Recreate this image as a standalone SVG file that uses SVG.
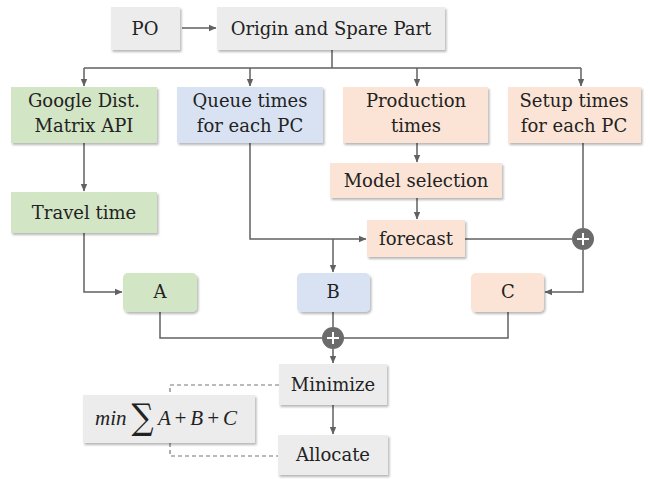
<svg xmlns="http://www.w3.org/2000/svg" width="650" height="479" viewBox="0 0 650 479">
<defs>
<filter id="sh" x="-10%" y="-10%" width="130%" height="140%">
<feDropShadow dx="1.5" dy="2" stdDeviation="1.2" flood-color="#000" flood-opacity="0.28"/>
</filter>
<marker id="ar" markerWidth="8" markerHeight="8" refX="7" refY="4" orient="auto" markerUnits="userSpaceOnUse">
<path d="M0,0.8 L7.5,4 L0,7.2 Z" fill="#616161"/>
</marker>
</defs>
<style>
.b{filter:url(#sh);stroke:none}
.g{fill:#ececec}.gr{fill:#d2e5c5}.bl{fill:#d9e2f3}.pe{fill:#fbe4d6}
text{font-family:"DejaVu Serif","Liberation Serif",serif;font-size:18px;fill:#222;text-anchor:middle}
.ln{fill:none;stroke:#616161;stroke-width:1.5}
.ds{fill:none;stroke:#777;stroke-width:1.2;stroke-dasharray:4 3}
.pc{fill:#6b6b6b}
.pl{stroke:#fff;stroke-width:2}
.m{font-family:"Liberation Serif","DejaVu Serif",serif;font-style:italic;font-size:21px;text-anchor:start}
</style>
<g id="connectors">
<line class="ln" x1="182" y1="28" x2="216" y2="28" marker-end="url(#ar)"/>
<path class="ln" d="M332,50 V68 M84,68 H581"/>
<line class="ln" x1="84" y1="68" x2="84" y2="86" marker-end="url(#ar)"/>
<line class="ln" x1="250" y1="68" x2="250" y2="86" marker-end="url(#ar)"/>
<line class="ln" x1="417" y1="68" x2="417" y2="86" marker-end="url(#ar)"/>
<line class="ln" x1="581" y1="68" x2="581" y2="86" marker-end="url(#ar)"/>
<line class="ln" x1="84" y1="143" x2="84" y2="191" marker-end="url(#ar)"/>
<line class="ln" x1="417" y1="143" x2="417" y2="162" marker-end="url(#ar)"/>
<line class="ln" x1="417" y1="198" x2="417" y2="219" marker-end="url(#ar)"/>
<path class="ln" d="M250,143 V239 H366" marker-end="url(#ar)"/>
<line class="ln" x1="333" y1="239" x2="333" y2="272" marker-end="url(#ar)"/>
<path class="ln" d="M84,212 V292 H122" marker-end="url(#ar)"/>
<line class="ln" x1="465" y1="239" x2="572" y2="239"/>
<line class="ln" x1="583" y1="143" x2="583" y2="228"/>
<path class="ln" d="M583,250 V292 H545" marker-end="url(#ar)"/>
<path class="ln" d="M160,312 V338 H508 V312"/>
<line class="ln" x1="333" y1="312" x2="333" y2="327"/>
<line class="ln" x1="333" y1="349" x2="333" y2="363" marker-end="url(#ar)"/>
<line class="ln" x1="333" y1="405" x2="333" y2="434" marker-end="url(#ar)"/>
<path class="ds" d="M279,385 H170 V395"/>
<path class="ds" d="M170,443 V456 H278"/>
</g>
<g id="plus1"><circle class="pc" cx="583" cy="239" r="11"/><path class="pl" d="M577,239 H589 M583,233 V245"/></g>
<g id="plus2"><circle class="pc" cx="333" cy="338" r="11"/><path class="pl" d="M327,338 H339 M333,332 V344"/></g>
<g id="po"><rect class="b g" x="111" y="7" width="69" height="43"/><text x="145" y="35">PO</text></g>
<g id="origin"><rect class="b g" x="217" y="7" width="228" height="43"/><text x="331" y="35">Origin and Spare Part</text></g>
<g id="google"><rect class="b gr" x="11" y="87" width="146" height="56"/><text x="84" y="107">Google Dist.</text><text x="84" y="132">Matrix API</text></g>
<g id="queue"><rect class="b bl" x="177" y="87" width="146" height="56"/><text x="250" y="107">Queue times</text><text x="250" y="132">for each PC</text></g>
<g id="production"><rect class="b pe" x="343" y="87" width="145" height="56"/><text x="416" y="107">Production</text><text x="416" y="132">times</text></g>
<g id="setup"><rect class="b pe" x="508" y="87" width="133" height="56"/><text x="574" y="107">Setup times</text><text x="574" y="132">for each PC</text></g>
<g id="travel"><rect class="b gr" x="11" y="192" width="146" height="41"/><text x="84" y="219">Travel time</text></g>
<g id="model"><rect class="b pe" x="330" y="163" width="172" height="35"/><text x="416" y="187">Model selection</text></g>
<g id="forecast"><rect class="b pe" x="367" y="220" width="98" height="37"/><text x="416" y="245">forecast</text></g>
<g id="A"><rect class="b gr" x="123" y="273" width="74" height="39" rx="5"/><text x="160" y="298">A</text></g>
<g id="B"><rect class="b bl" x="297" y="273" width="73" height="39" rx="5"/><text x="333" y="298">B</text></g>
<g id="C"><rect class="b pe" x="471" y="273" width="73" height="39" rx="5"/><text x="508" y="298">C</text></g>
<g id="minimize"><rect class="b g" x="279" y="364" width="108" height="41"/><text x="333" y="391">Minimize</text></g>
<g id="allocate"><rect class="b g" x="278" y="435" width="110" height="40"/><text x="333" y="461">Allocate</text></g>
<g id="formula"><rect class="b g" x="83" y="395" width="172" height="48"/>
<text class="m" x="95" y="425">min</text>
<text transform="translate(142.5,429) scale(1,1.15)" x="0" y="0" style="font-family:'DejaVu Serif',serif;font-size:31px;font-style:normal">∑</text>
<text class="m" x="158" y="425" textLength="79" lengthAdjust="spacing">A + B + C</text></g>
</svg>
